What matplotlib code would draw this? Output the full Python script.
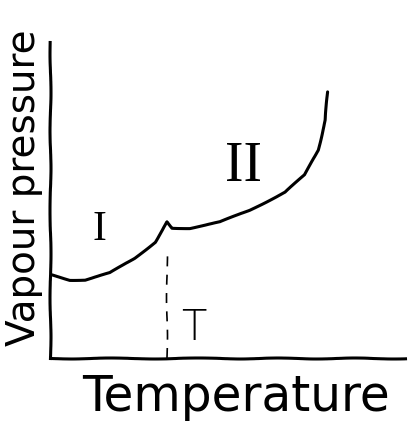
"""
Hand-drawn sketch: vapour pressure vs temperature with a transition at T.
"""

import matplotlib
matplotlib.use("Agg")
import matplotlib.pyplot as plt

# phase I branch (temperature, vapour pressure), arbitrary units
temp_I = [0.6, 5.6, 9.9, 16.9, 23.9, 29.6, 33.0]
press_I = [26.3, 24.7, 24.7, 26.9, 31.6, 36.7, 43.0]

# phase II branch
temp_II = [33.0, 34.4, 39.4, 47.9, 56.3, 66.2, 71.8, 75.5, 77.5, 78.3]
press_II = [43.0, 41.1, 41.1, 43.0, 46.8, 52.5, 57.9, 65.8, 75.3, 84.2]

# transition temperature and top of its dashed marker
T_trans = 33.0
T_marker_top = 34.2

plt.rcParams["path.sketch"] = (0.5, 90, 2)

fig = plt.figure(figsize=(4.11, 4.23), dpi=100)
ax = fig.add_axes([50 / 411, 65 / 423, 355 / 411, 316 / 423])

ax.plot(temp_I, press_I, color="black", lw=2.2, solid_capstyle="round")
ax.plot(temp_II, press_II, color="black", lw=2.2, solid_capstyle="round")
ax.plot([T_trans, T_trans], [0, T_marker_top], color="black", lw=1.2,
        dashes=(6, 5))

ax.text(14, 40.5, "I", fontsize=30, family="Liberation Serif",
        ha="center", va="center")
ax.text(54.5, 60.5, "II", fontsize=40, family="Liberation Serif",
        ha="center", va="center")
ax.text(40.5, 9.5, "T", fontsize=30, family="DejaVu Sans",
        ha="center", va="center", fontweight="light")

ax.set_xlim(0, 100)
ax.set_ylim(0, 100)
for side in ("top", "right"):
    ax.spines[side].set_visible(False)
ax.spines["left"].set_linewidth(2.2)
ax.spines["bottom"].set_linewidth(2.2)
ax.set_xticks([])
ax.set_yticks([])

fig.text(236 / 411, 1 - 397 / 423, "Temperature", fontsize=35,
         ha="center", va="center", family="DejaVu Sans")
fig.text(24 / 411, 1 - 188 / 423, "Vapour pressure", fontsize=28,
         rotation=90, ha="center", va="center", family="DejaVu Sans")

fig.savefig("out.png", dpi=100)
